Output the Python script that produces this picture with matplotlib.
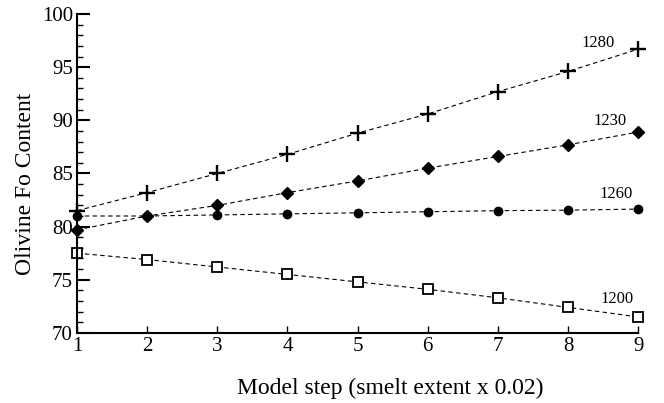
import matplotlib
matplotlib.use("Agg")
import matplotlib.pyplot as plt
from matplotlib.ticker import MultipleLocator

plt.rcParams['font.family'] = ['Liberation Serif', 'DejaVu Serif']

steps = [1, 2, 3, 4, 5, 6, 7, 8, 9]
fo_1280 = [81.5, 83.2, 85.0, 86.8, 88.8, 90.6, 92.7, 94.6, 96.7]
fo_1230 = [79.7, 81.0, 82.0, 83.2, 84.3, 85.5, 86.6, 87.7, 88.9]
fo_1260 = [81.0, 81.0, 81.1, 81.2, 81.3, 81.4, 81.5, 81.55, 81.65]
fo_1200 = [77.5, 76.9, 76.2, 75.5, 74.8, 74.1, 73.3, 72.4, 71.5]

labels = ["1280", "1230", "1260", "1200"]
label_pos = [(8.66, 96.9), (8.83, 89.6), (8.93, 82.7), (8.94, 72.8)]

fig = plt.figure(figsize=(6.64, 4.03), dpi=100)
ax = fig.add_axes([0.116, 0.174, 0.845, 0.791])

dash = (0, (4, 3))
ax.plot(steps, fo_1280, color='black', lw=0.8, linestyle=dash, marker='+',
        markersize=12, markeredgewidth=1.7, clip_on=False)
ax.plot(steps, fo_1230, color='black', lw=0.8, linestyle=dash, marker='D',
        markersize=6.3, clip_on=False)
ax.plot(steps, fo_1260, color='black', lw=0.8, linestyle=dash, marker='o',
        markersize=6, clip_on=False)
ax.plot(steps, fo_1200, color='black', lw=0.8, linestyle=dash, marker='s',
        markersize=7, markerfacecolor='white', markeredgewidth=1.3, clip_on=False)

for lab, (x, y) in zip(labels, label_pos):
    ax.text(x, y, lab, fontsize=12, ha='right', va='baseline')

ax.set_xlim(1, 9)
ax.set_ylim(70, 100)
ax.xaxis.set_major_locator(MultipleLocator(1))
ax.yaxis.set_major_locator(MultipleLocator(5))
ax.yaxis.set_minor_locator(MultipleLocator(1))

ax.spines['top'].set_visible(False)
ax.spines['right'].set_visible(False)
ax.spines['left'].set_linewidth(1.5)
ax.spines['bottom'].set_linewidth(1.5)

ax.tick_params(axis='y', which='major', direction='in', length=9, width=1.5, labelsize=15, pad=3)
ax.tick_params(axis='y', which='minor', direction='in', length=4, width=1)
ax.tick_params(axis='x', which='major', direction='in', length=5, width=1, labelsize=15, pad=3)

ax.set_xlabel("Model step (smelt extent x 0.02)", fontsize=17, labelpad=16, x=0.558)
ax.set_ylabel("Olivine Fo Content", fontsize=17, labelpad=4, y=0.466)

fig.savefig("out.png", dpi=100)
